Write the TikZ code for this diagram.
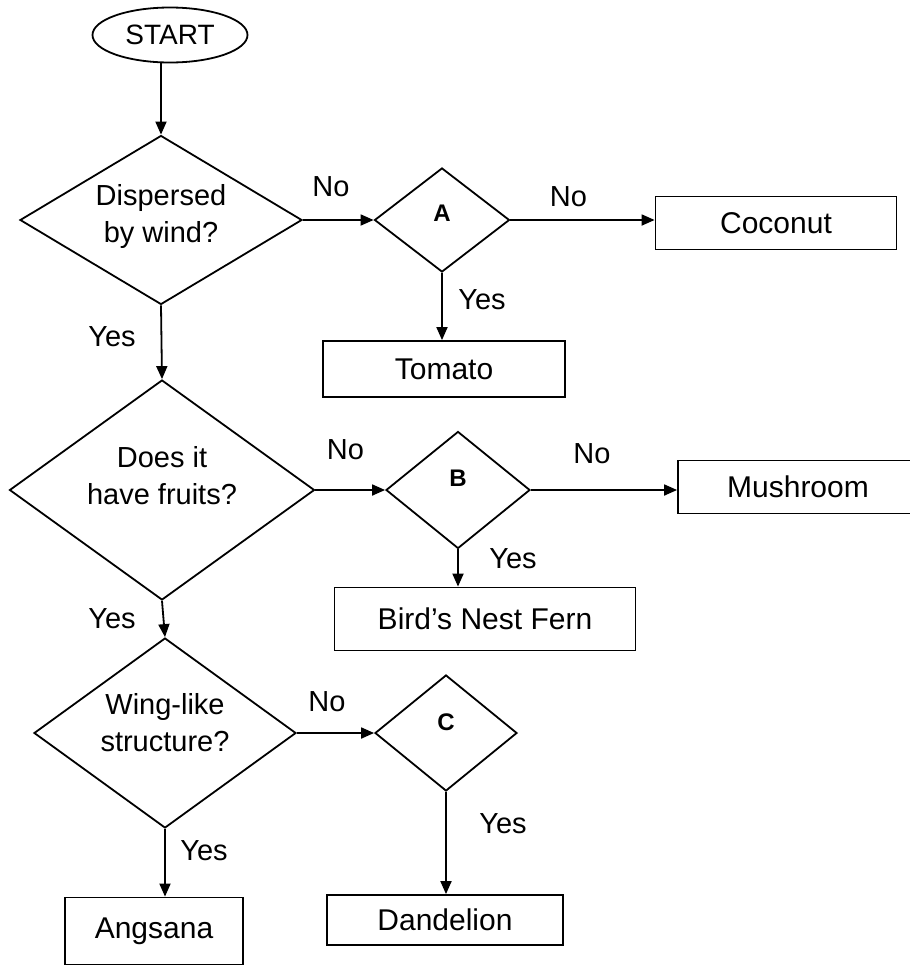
\documentclass[tikz,border=0pt]{standalone}
\usepackage{fontspec}
\setmainfont{Liberation Sans}
\usetikzlibrary{shapes.geometric,arrows.meta}

\begin{document}
\begin{tikzpicture}[x=1pt,y=-1pt,line width=1.8pt,
    txt/.style={font=\fontsize{29}{37}\selectfont,align=center,inner sep=0pt}]
    \tikzstyle{term} = [ellipse, draw, minimum width=155pt, minimum height=55pt, inner sep=0pt, font=\fontsize{28}{34}\selectfont]
    \tikzstyle{dec} = [diamond, draw, inner sep=0pt]
    \tikzstyle{letter} = [inner sep=0pt, font=\fontsize{24}{28}\selectfont\bfseries]
    \tikzstyle{leaf} = [rectangle, draw, inner sep=0pt, minimum height=55pt, font=\fontsize{30}{36}\selectfont]
    \tikzstyle{flow} = [-{Triangle[length=13pt,width=11pt]}]
    \clip (0,0) rectangle (910,967);
        \node[term] (start) at (170,35) {START};
        % questions
        \node[dec,minimum width=282pt,minimum height=169pt] (q1) at (161,220) {};
        \node[dec,minimum width=305pt,minimum height=220pt] (q2) at (162,490) {};
        \node[dec,minimum width=262pt,minimum height=190pt] (q3) at (165,733) {};
        \node[txt,yshift=4pt] (q1t) at (q1) {Dispersed\\by wind?};
        \node[txt,yshift=14pt] (q2t) at (q2) {Does it\\have fruits?};
        \node[txt,yshift=10pt] (q3t) at (q3) {Wing-like\\structure?};
        % unknown keys
        \node[dec,minimum width=135pt,minimum height=104pt] (qa) at (442,220) {};
        \node[dec,minimum width=144pt,minimum height=117pt] (qb) at (458,490) {};
        \node[dec,minimum width=142pt,minimum height=116pt] (qc) at (446,733) {};
        \node[letter,yshift=7pt] (qat) at (qa) {A};
        \node[letter,yshift=12pt] (qbt) at (qb) {B};
        \node[letter,yshift=11pt] (qct) at (qc) {C};
        % plants
        \node[leaf,minimum width=241pt,minimum height=53pt] (coconut) at (776,223) {Coconut};
        \node[leaf,minimum width=242pt,minimum height=56pt] (tomato) at (444,369) {Tomato};
        \node[leaf,minimum width=240pt,minimum height=53pt] (mushroom) at (798,487) {Mushroom};
        \node[leaf,minimum width=301pt,minimum height=63pt] (bird) at (485,619) {Bird's Nest Fern};
        \node[leaf,minimum width=178pt,minimum height=67pt] (angsana) at (154,931) {Angsana};
        \node[leaf,minimum width=236pt,minimum height=50pt] (dandelion) at (445,920) {Dandelion};
        % arrows
        \draw[flow] (start.south -| q1.north) -- (q1.north);
        \draw[flow] (q1.east) -- (qa.west);
        \draw[flow] (qa.east) -- (qa.east -| coconut.west);
        \draw[flow] (qa.south) -- (qa.south |- tomato.north);
        \draw[flow] (q1.south) -- (q2.north);
        \draw[flow] (q2.east) -- (qb.west);
        \draw[flow] (qb.east) -- (qb.east -| mushroom.west);
        \draw[flow] (qb.south) -- (qb.south |- bird.north);
        \draw[flow] (q2.south) -- (q3.north);
        \draw[flow] (q3.east) -- (qc.west);
        \draw[flow] (q3.south) -- (q3.south |- angsana.north);
        \draw[flow] (qc.south) -- (qc.south |- dandelion.north);
        %%% labels
        % no
        \node[txt,xshift=28pt,yshift=33pt] (no1) at (q1.east) {No};
        \node[txt,xshift=58pt,yshift=23pt] (noa) at (qa.east) {No};
        \node[txt,xshift=30pt,yshift=40pt] (no2) at (q2.east) {No};
        \node[txt,xshift=61pt,yshift=36pt] (nob) at (qb.east) {No};
        \node[txt,xshift=30pt,yshift=31pt] (no3) at (q3.east) {No};
        % yes
        \node[txt,xshift=-49pt,yshift=-31pt] (yes1) at (q1.south) {Yes};
        \node[txt,xshift=40pt,yshift=-27pt] (yesa) at (qa.south) {Yes};
        \node[txt,xshift=-50pt,yshift=-18pt] (yes2) at (q2.south) {Yes};
        \node[txt,xshift=55pt,yshift=-9pt] (yesb) at (qb.south) {Yes};
        \node[txt,xshift=39pt,yshift=-22pt] (yes3) at (q3.south) {Yes};
        \node[txt,xshift=57pt,yshift=-32pt] (yesc) at (qc.south) {Yes};
    \end{tikzpicture}
\end{document}
